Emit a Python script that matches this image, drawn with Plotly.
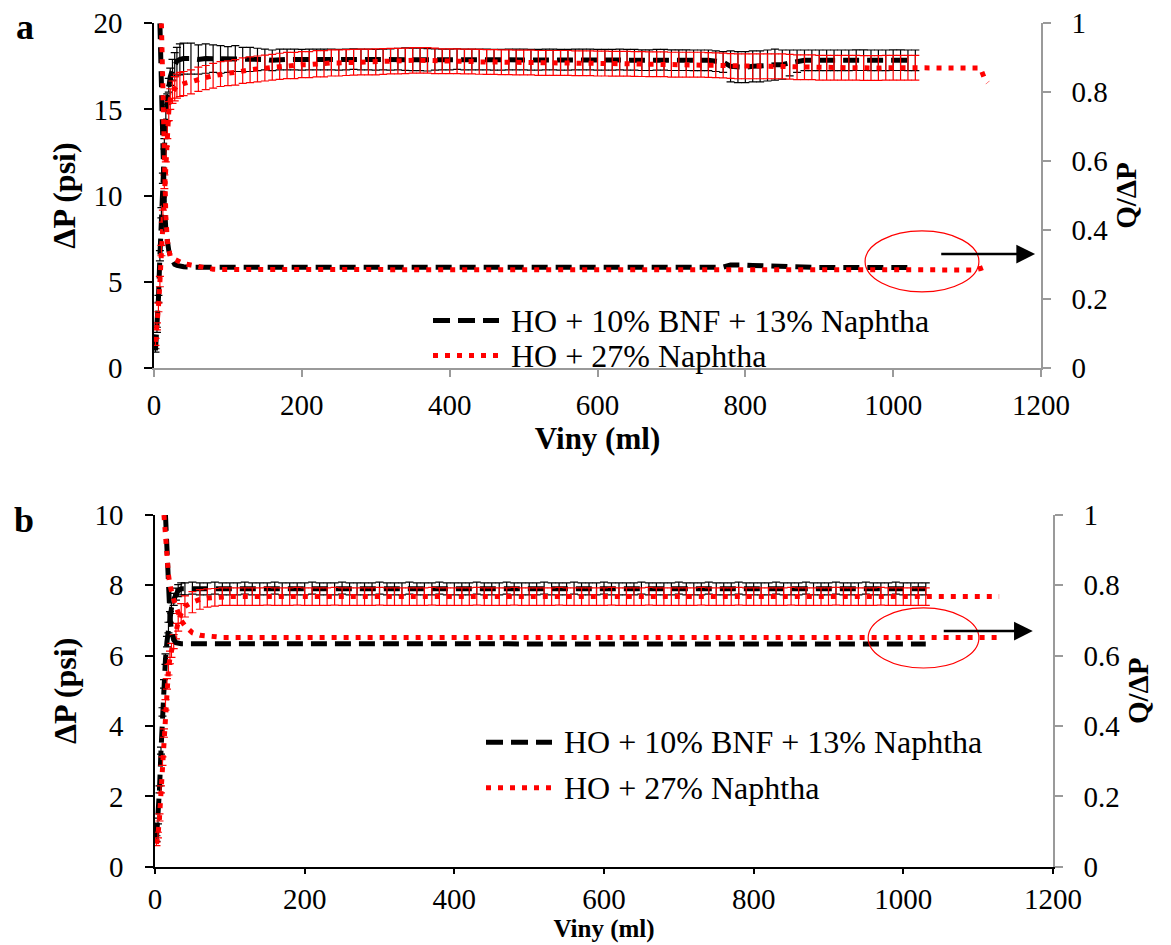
import plotly.graph_objects as go

# ---------------- data ----------------
# injected volume (ml)
vol = [2, 4, 6, 8, 10, 12, 14, 16, 18, 20, 22, 25, 28, 31, 35,
       40, 50, 60, 70, 80, 90, 100, 110, 120, 130,
       140, 150, 160, 170, 180, 190, 200, 210, 220, 230,
       240, 250, 260, 270, 280, 290, 300, 310, 320, 330,
       340, 350, 360, 370, 380, 390, 400, 410, 420, 430,
       440, 450, 460, 470, 480, 490, 500, 510, 520, 530,
       540, 550, 560, 570, 580, 590, 600, 610, 620, 630,
       640, 650, 660, 670, 680, 690, 700, 710, 720, 730,
       740, 750, 760, 770, 780, 790, 800, 810, 820, 830,
       840, 850, 860, 870, 880, 890, 900, 910, 920, 930,
       940, 950, 960, 970, 980, 990, 1000, 1010, 1020, 1030]
tail_a = [1040, 1050, 1060, 1070, 1080, 1090, 1100, 1110, 1118, 1124, 1128]
tail_b = [1040, 1050, 1060, 1070, 1080, 1090, 1100, 1110, 1120, 1128]

# ---- panel a ----
dp_bnf_a = [1.0, 2.2, 4.0, 6.5, 9.0, 11.0, 13.0, 14.6, 15.6, 16.4, 16.9, 17.3, 17.6, 17.8, 17.9,
            17.95, 17.95, 17.9, 17.95, 17.95, 17.9, 17.9, 17.95, 17.9, 17.9,
            17.9, 17.9, 17.85, 17.9, 17.9, 17.9, 17.88, 17.9, 17.9, 17.9,
            17.9, 17.88, 17.9, 17.92, 17.9, 17.9, 17.88, 17.9, 17.9, 17.92,
            17.92, 17.9, 17.9, 17.88, 17.9, 17.9, 17.9, 17.92, 17.9, 17.9,
            17.9, 17.9, 17.88, 17.88, 17.9, 17.9, 17.9, 17.88, 17.88, 17.9,
            17.9, 17.88, 17.88, 17.9, 17.9, 17.9, 17.88, 17.88, 17.88, 17.9,
            17.88, 17.88, 17.86, 17.86, 17.88, 17.88, 17.86, 17.86, 17.86, 17.85,
            17.85, 17.85, 17.8, 17.75, 17.5, 17.45, 17.45, 17.5, 17.5, 17.55,
            17.6, 17.6, 17.7, 17.8, 17.85, 17.85, 17.85, 17.85, 17.85, 17.85,
            17.85, 17.86, 17.86, 17.85, 17.85, 17.85, 17.86, 17.86, 17.85, 17.85]
err_bnf_a = [0.1, 0.15, 0.2, 0.3, 0.3, 0.3, 0.3, 0.3, 0.3, 0.4, 0.5, 0.6, 0.7, 0.8, 0.9,
             0.9, 0.9, 0.85, 0.85, 0.8, 0.8, 0.75, 0.75, 0.7, 0.7,
             0.65, 0.6, 0.6, 0.6, 0.6, 0.6, 0.6, 0.6, 0.6, 0.6,
             0.6, 0.6, 0.6, 0.6, 0.6, 0.6, 0.6, 0.6, 0.62, 0.62,
             0.65, 0.65, 0.65, 0.65, 0.62, 0.6, 0.6, 0.6, 0.6, 0.6,
             0.6, 0.6, 0.6, 0.6, 0.6, 0.6, 0.6, 0.6, 0.6, 0.6,
             0.6, 0.6, 0.6, 0.6, 0.6, 0.6, 0.6, 0.6, 0.6, 0.6,
             0.6, 0.6, 0.6, 0.6, 0.6, 0.6, 0.6, 0.6, 0.6, 0.6,
             0.6, 0.6, 0.6, 0.6, 0.9, 0.9, 0.9, 0.9, 0.9, 0.9,
             0.9, 0.85, 0.75, 0.65, 0.6, 0.6, 0.6, 0.6, 0.6, 0.6,
             0.6, 0.6, 0.6, 0.6, 0.6, 0.6, 0.6, 0.6, 0.6, 0.6]
q_bnf_a = [None, None, None, 1.0, 0.80, 0.62, 0.48, 0.40, 0.36, 0.34, 0.325, 0.31, 0.30, 0.297, 0.294,
           0.293, 0.292, 0.292, 0.291, 0.291, 0.291, 0.291, 0.291, 0.291, 0.291,
           0.291, 0.291, 0.290, 0.291, 0.291, 0.291, 0.291, 0.290, 0.291, 0.291,
           0.291, 0.291, 0.291, 0.290, 0.291, 0.291, 0.291, 0.291, 0.291, 0.290,
           0.291, 0.291, 0.291, 0.291, 0.291, 0.290, 0.291, 0.291, 0.291, 0.291,
           0.291, 0.290, 0.291, 0.291, 0.291, 0.291, 0.291, 0.290, 0.291, 0.291,
           0.291, 0.291, 0.291, 0.291, 0.290, 0.291, 0.291, 0.291, 0.291, 0.291,
           0.291, 0.291, 0.290, 0.291, 0.291, 0.291, 0.291, 0.291, 0.290, 0.291,
           0.291, 0.291, 0.291, 0.292, 0.298, 0.299, 0.298, 0.297, 0.296, 0.296,
           0.295, 0.295, 0.294, 0.292, 0.291, 0.291, 0.291, 0.291, 0.291, 0.291,
           0.291, 0.291, 0.290, 0.291, 0.291, 0.291, 0.291, 0.290, 0.291, 0.291]

dp_nap_a = [1.5, 2.4, 3.5, 5.0, 6.8, 8.8, 10.8, 12.4, 13.8, 14.9, 15.6, 16.0, 16.2, 16.35, 16.45,
            16.5, 16.6, 16.75, 16.85, 16.95, 17.05, 17.1, 17.15, 17.25, 17.3,
            17.35, 17.4, 17.45, 17.5, 17.55, 17.55, 17.6, 17.6, 17.65, 17.65,
            17.7, 17.7, 17.72, 17.74, 17.75, 17.75, 17.76, 17.78, 17.8, 17.8,
            17.82, 17.85, 17.85, 17.85, 17.82, 17.8, 17.8, 17.8, 17.78, 17.78,
            17.76, 17.75, 17.75, 17.74, 17.74, 17.72, 17.72, 17.72, 17.7, 17.7,
            17.7, 17.7, 17.7, 17.68, 17.68, 17.68, 17.66, 17.66, 17.65, 17.65,
            17.65, 17.64, 17.63, 17.62, 17.62, 17.62, 17.6, 17.6, 17.6, 17.6,
            17.6, 17.58, 17.56, 17.55, 17.52, 17.5, 17.5, 17.5, 17.5, 17.5,
            17.5, 17.5, 17.48, 17.45, 17.45, 17.45, 17.42, 17.42, 17.42, 17.42,
            17.42, 17.42, 17.4, 17.4, 17.4, 17.42, 17.42, 17.42, 17.42, 17.42,
            17.42, 17.42, 17.45, 17.45, 17.45, 17.45, 17.45, 17.42, 17.4, 16.75, 16.55]
err_nap_a = [0.2, 0.2, 0.25, 0.3, 0.3, 0.35, 0.4, 0.45, 0.5, 0.55, 0.6, 0.65, 0.7, 0.7, 0.7,
             0.7, 0.7, 0.7, 0.7, 0.72, 0.72, 0.72, 0.74, 0.74, 0.75,
             0.75, 0.75, 0.75, 0.76, 0.76, 0.76, 0.76, 0.76, 0.76, 0.76,
             0.76, 0.76, 0.75, 0.75, 0.75, 0.75, 0.75, 0.75, 0.74, 0.74,
             0.74, 0.74, 0.74, 0.74, 0.74, 0.72, 0.72, 0.72, 0.72, 0.72,
             0.72, 0.72, 0.72, 0.72, 0.72, 0.72, 0.72, 0.72, 0.72, 0.72,
             0.72, 0.72, 0.72, 0.72, 0.72, 0.72, 0.72, 0.72, 0.72, 0.72,
             0.72, 0.72, 0.72, 0.72, 0.72, 0.72, 0.72, 0.72, 0.72, 0.72,
             0.72, 0.72, 0.72, 0.72, 0.72, 0.72, 0.72, 0.72, 0.72, 0.72,
             0.72, 0.72, 0.72, 0.72, 0.72, 0.72, 0.72, 0.72, 0.72, 0.72,
             0.72, 0.72, 0.72, 0.72, 0.72, 0.72, 0.72, 0.72, 0.72, 0.72]
q_nap_a = [None, None, None, None, 1.0, 0.75, 0.56, 0.44, 0.37, 0.335, 0.322, 0.318, 0.314, 0.31, 0.305,
           0.302, 0.298, 0.293, 0.289, 0.286, 0.285, 0.285, 0.284, 0.284, 0.284,
           0.284, 0.285, 0.284, 0.284, 0.284, 0.285, 0.284, 0.284, 0.284, 0.284,
           0.285, 0.284, 0.284, 0.284, 0.284, 0.284, 0.285, 0.284, 0.284, 0.284,
           0.284, 0.284, 0.284, 0.285, 0.284, 0.284, 0.284, 0.284, 0.284, 0.285,
           0.284, 0.284, 0.284, 0.284, 0.285, 0.284, 0.284, 0.284, 0.284, 0.284,
           0.285, 0.284, 0.284, 0.284, 0.284, 0.284, 0.284, 0.285, 0.284, 0.284,
           0.284, 0.284, 0.285, 0.284, 0.284, 0.284, 0.284, 0.284, 0.284, 0.285,
           0.284, 0.284, 0.284, 0.284, 0.285, 0.285, 0.285, 0.285, 0.285, 0.285,
           0.285, 0.285, 0.284, 0.284, 0.284, 0.284, 0.284, 0.284, 0.284, 0.284,
           0.284, 0.284, 0.284, 0.284, 0.284, 0.284, 0.284, 0.284, 0.284, 0.284,
           0.284, 0.284, 0.284, 0.284, 0.284, 0.284, 0.284, 0.284, 0.288, 0.293, None]

# ---- panel b ----
dp_bnf_b = [0.8, 1.3, 2.2, 3.3, 4.4, 5.2, 5.9, 6.4, 6.8, 7.1, 7.35, 7.6, 7.75, 7.85, 7.9,
            7.9, 7.92, 7.9, 7.9, 7.92, 7.9, 7.9, 7.9, 7.92, 7.9,
            7.9, 7.9, 7.92, 7.9, 7.9, 7.9, 7.9, 7.92, 7.9, 7.9,
            7.9, 7.92, 7.9, 7.9, 7.9, 7.9, 7.92, 7.9, 7.9, 7.9,
            7.92, 7.9, 7.9, 7.9, 7.92, 7.9, 7.9, 7.9, 7.9, 7.92,
            7.9, 7.9, 7.9, 7.92, 7.9, 7.9, 7.9, 7.9, 7.92, 7.9,
            7.9, 7.9, 7.92, 7.9, 7.9, 7.9, 7.92, 7.9, 7.9, 7.9,
            7.9, 7.92, 7.9, 7.9, 7.9, 7.9, 7.92, 7.9, 7.9, 7.9,
            7.92, 7.9, 7.9, 7.9, 7.92, 7.9, 7.9, 7.9, 7.9, 7.92,
            7.9, 7.9, 7.9, 7.92, 7.9, 7.9, 7.9, 7.92, 7.9, 7.9,
            7.9, 7.92, 7.9, 7.9, 7.9, 7.92, 7.9, 7.9, 7.9, 7.9]
err_bnf_b = [0.08, 0.08, 0.1, 0.1, 0.12, 0.12, 0.15, 0.15, 0.15, 0.15, 0.15, 0.17, 0.17, 0.17, 0.17,
             0.17, 0.17, 0.17, 0.17, 0.17, 0.17, 0.17, 0.17, 0.17, 0.17,
             0.17, 0.17, 0.17, 0.17, 0.17, 0.17, 0.17, 0.17, 0.17, 0.17,
             0.17, 0.17, 0.17, 0.17, 0.17, 0.17, 0.17, 0.17, 0.17, 0.17,
             0.17, 0.17, 0.17, 0.17, 0.17, 0.17, 0.17, 0.17, 0.17, 0.17,
             0.17, 0.17, 0.17, 0.17, 0.17, 0.17, 0.17, 0.17, 0.17, 0.17,
             0.17, 0.17, 0.17, 0.17, 0.17, 0.17, 0.17, 0.17, 0.17, 0.17,
             0.17, 0.17, 0.17, 0.17, 0.17, 0.17, 0.17, 0.17, 0.17, 0.17,
             0.17, 0.17, 0.17, 0.17, 0.17, 0.17, 0.17, 0.17, 0.17, 0.17,
             0.17, 0.17, 0.17, 0.17, 0.17, 0.17, 0.17, 0.17, 0.17, 0.17,
             0.17, 0.17, 0.17, 0.17, 0.17, 0.17, 0.17, 0.17, 0.17, 0.17]
q_bnf_b = [None, None, None, None, None, None, 1.0, 0.88, 0.78, 0.71, 0.67, 0.645, 0.637, 0.635, 0.634,
           0.634, 0.634, 0.633, 0.634, 0.634, 0.634, 0.633, 0.634, 0.634, 0.634,
           0.634, 0.633, 0.634, 0.634, 0.634, 0.634, 0.633, 0.634, 0.634, 0.634,
           0.634, 0.634, 0.633, 0.634, 0.634, 0.634, 0.634, 0.633, 0.634, 0.634,
           0.634, 0.634, 0.634, 0.633, 0.634, 0.634, 0.634, 0.634, 0.633, 0.634,
           0.634, 0.634, 0.634, 0.634, 0.633, 0.634, 0.634, 0.634, 0.634, 0.633,
           0.634, 0.634, 0.634, 0.634, 0.634, 0.633, 0.634, 0.634, 0.634, 0.634,
           0.633, 0.634, 0.634, 0.634, 0.634, 0.634, 0.633, 0.634, 0.634, 0.634,
           0.634, 0.633, 0.634, 0.634, 0.634, 0.634, 0.634, 0.633, 0.634, 0.634,
           0.634, 0.634, 0.633, 0.634, 0.634, 0.634, 0.634, 0.634, 0.633, 0.634,
           0.634, 0.634, 0.634, 0.633, 0.634, 0.634, 0.634, 0.634, 0.634, 0.633]

dp_nap_b = [0.65, 0.9, 1.4, 2.2, 3.0, 3.8, 4.6, 5.2, 5.6, 5.95, 6.15, 6.4, 6.7, 6.95, 7.2,
            7.4, 7.52, 7.6, 7.64, 7.66, 7.68, 7.68, 7.68, 7.68, 7.68,
            7.68, 7.69, 7.68, 7.68, 7.68, 7.69, 7.68, 7.68, 7.68, 7.68,
            7.69, 7.68, 7.68, 7.68, 7.68, 7.68, 7.69, 7.68, 7.68, 7.68,
            7.68, 7.68, 7.68, 7.69, 7.68, 7.68, 7.68, 7.68, 7.68, 7.69,
            7.68, 7.68, 7.68, 7.68, 7.69, 7.68, 7.68, 7.68, 7.68, 7.68,
            7.69, 7.68, 7.68, 7.68, 7.68, 7.68, 7.68, 7.69, 7.68, 7.68,
            7.68, 7.68, 7.69, 7.68, 7.68, 7.68, 7.68, 7.68, 7.68, 7.69,
            7.68, 7.68, 7.68, 7.68, 7.69, 7.68, 7.68, 7.68, 7.68, 7.68,
            7.68, 7.69, 7.68, 7.68, 7.68, 7.68, 7.68, 7.69, 7.68, 7.68,
            7.68, 7.68, 7.68, 7.69, 7.68, 7.68, 7.68, 7.68, 7.68, 7.68,
            7.68, 7.68, 7.68, 7.68, 7.68, 7.68, 7.68, 7.68, 7.68, 7.68]
err_nap_b = [0.05, 0.08, 0.1, 0.1, 0.12, 0.12, 0.15, 0.15, 0.15, 0.18, 0.2, 0.2, 0.22, 0.25, 0.28,
             0.3, 0.3, 0.28, 0.26, 0.25, 0.25, 0.25, 0.25, 0.25, 0.25,
             0.25, 0.25, 0.25, 0.25, 0.25, 0.25, 0.25, 0.25, 0.25, 0.25,
             0.25, 0.25, 0.25, 0.25, 0.25, 0.25, 0.25, 0.25, 0.25, 0.25,
             0.25, 0.25, 0.25, 0.25, 0.25, 0.25, 0.25, 0.25, 0.25, 0.25,
             0.25, 0.25, 0.25, 0.25, 0.25, 0.25, 0.25, 0.25, 0.25, 0.25,
             0.25, 0.25, 0.25, 0.25, 0.25, 0.25, 0.25, 0.25, 0.25, 0.25,
             0.25, 0.25, 0.25, 0.25, 0.25, 0.25, 0.25, 0.25, 0.25, 0.25,
             0.25, 0.25, 0.25, 0.25, 0.25, 0.25, 0.25, 0.25, 0.25, 0.25,
             0.25, 0.25, 0.25, 0.25, 0.25, 0.25, 0.25, 0.25, 0.25, 0.25,
             0.25, 0.25, 0.25, 0.25, 0.25, 0.25, 0.25, 0.25, 0.25, 0.25]
q_nap_b = [None, None, None, None, None, 1.0, 0.93, 0.87, 0.83, 0.80, 0.78, 0.76, 0.74, 0.72, 0.70,
           0.685, 0.665, 0.658, 0.655, 0.653, 0.652, 0.652, 0.652, 0.652, 0.652,
           0.652, 0.652, 0.653, 0.652, 0.652, 0.652, 0.652, 0.652, 0.653, 0.652,
           0.652, 0.652, 0.652, 0.652, 0.653, 0.652, 0.652, 0.652, 0.652, 0.652,
           0.653, 0.652, 0.652, 0.652, 0.652, 0.652, 0.653, 0.652, 0.652, 0.652,
           0.652, 0.652, 0.653, 0.652, 0.652, 0.652, 0.652, 0.652, 0.653, 0.652,
           0.652, 0.652, 0.652, 0.652, 0.653, 0.652, 0.652, 0.652, 0.652, 0.652,
           0.653, 0.652, 0.652, 0.652, 0.652, 0.652, 0.653, 0.652, 0.652, 0.652,
           0.652, 0.652, 0.653, 0.652, 0.652, 0.652, 0.652, 0.652, 0.653, 0.652,
           0.652, 0.652, 0.652, 0.652, 0.653, 0.652, 0.652, 0.652, 0.652, 0.652,
           0.653, 0.652, 0.652, 0.652, 0.652, 0.652, 0.653, 0.652, 0.652, 0.652,
           0.652, 0.652, 0.652, 0.652, 0.652, 0.652, 0.652, 0.652, 0.652, 0.652]

x_ticks = [0, 200, 400, 600, 800, 1000, 1200]
name_bnf = "HO + 10% BNF + 13% Naphtha"
name_nap = "HO + 27% Naphtha"
x_title = "<b>Viny (ml)</b>"

# ---------------- styling ----------------
W, H = 1171, 945
FONT = "Liberation Serif"
GRAY = "#9a9a9a"
BLACK_LINE = dict(color="black", width=5, dash="16px,8px")
RED_LINE = dict(color="red", width=5, dash="5px,7px")


def fx(p):
    return p / W


def fy(p):
    return 1 - p / H


def err(arr, color):
    return dict(type="data", array=arr, color=color, thickness=1.2, width=4, visible=True)


fig = go.Figure()

# panel a
fig.add_trace(go.Scatter(x=vol, y=dp_bnf_a, mode="lines", line=BLACK_LINE,
                         error_y=err(err_bnf_a, "black"), xaxis="x", yaxis="y", name=name_bnf))
fig.add_trace(go.Scatter(x=vol + tail_a, y=dp_nap_a, mode="lines", line=RED_LINE,
                         error_y=err(err_nap_a, "red"), xaxis="x", yaxis="y", name=name_nap))
fig.add_trace(go.Scatter(x=vol, y=q_bnf_a, mode="lines", line=BLACK_LINE,
                         xaxis="x", yaxis="y2", name=name_bnf))
fig.add_trace(go.Scatter(x=vol + tail_a, y=q_nap_a, mode="lines", line=RED_LINE,
                         xaxis="x", yaxis="y2", name=name_nap))

# panel b
fig.add_trace(go.Scatter(x=vol, y=dp_bnf_b, mode="lines", line=BLACK_LINE,
                         error_y=err(err_bnf_b, "black"), xaxis="x2", yaxis="y3", name=name_bnf))
fig.add_trace(go.Scatter(x=vol + tail_b, y=dp_nap_b, mode="lines", line=RED_LINE,
                         error_y=err(err_nap_b, "red"), xaxis="x2", yaxis="y3", name=name_nap))
fig.add_trace(go.Scatter(x=vol, y=q_bnf_b, mode="lines", line=BLACK_LINE,
                         xaxis="x2", yaxis="y4", name=name_bnf))
fig.add_trace(go.Scatter(x=vol + tail_b, y=q_nap_b, mode="lines", line=RED_LINE,
                         xaxis="x2", yaxis="y4", name=name_nap))

tickfont = dict(family=FONT, size=29, color="black")


def x_axis(domain, anchor, color, ticklen, label_gap, title_size):
    return dict(domain=domain, anchor=anchor, range=[0, 1200], tickvals=x_ticks,
                ticks="outside", ticklen=ticklen, tickwidth=1.5, tickcolor=color,
                showline=True, linecolor=color, linewidth=1.5, automargin=False,
                showgrid=False, zeroline=False, tickfont=tickfont, ticklabelstandoff=label_gap,
                title=dict(text=x_title, standoff=0,
                           font=dict(family=FONT, size=title_size, color="black")))


def y_left(domain, anchor, rng, dtick):
    return dict(domain=domain, anchor=anchor, range=rng, dtick=dtick, tick0=0,
                ticks="outside", ticklen=8, tickwidth=1.5, tickcolor="black",
                showline=True, linecolor="black", linewidth=1.5, automargin=False,
                showgrid=False, zeroline=False, tickfont=tickfont, ticklabelstandoff=16,
                title=dict(text="<b>ΔP (psi)</b>", standoff=8,
                           font=dict(family=FONT, size=32, color="black")))


def y_right(overlay, anchor):
    return dict(overlaying=overlay, anchor=anchor, side="right", range=[0, 1], dtick=0.2, tick0=0,
                ticks="outside", ticklen=8, tickwidth=1.5, tickcolor=GRAY,
                showline=True, linecolor=GRAY, linewidth=1.5, automargin=False,
                showgrid=False, zeroline=False, tickfont=tickfont, ticklabelstandoff=15,
                title=dict(text="<b>Q/ΔP</b>", standoff=8,
                           font=dict(family=FONT, size=29, color="black")))


fig.update_layout(
    width=W, height=H, margin=dict(l=0, r=0, t=0, b=0, autoexpand=False),
    paper_bgcolor="white", plot_bgcolor="white", showlegend=False,
    font=dict(family=FONT, color="black"),
    xaxis=x_axis([fx(154), fx(1041)], "y", GRAY, 8, 3, 31),
    yaxis=y_left([fy(367.7), fy(23.3)], "x", [0, 20], 5),
    yaxis2=y_right("y", "x"),
    xaxis2=x_axis([fx(155), fx(1053)], "y3", "black", 6, 0, 25),
    yaxis3=y_left([fy(866.7), fy(515)], "x2", [0, 10], 2),
    yaxis4=y_right("y3", "x2"),
)

shapes = [
    # highlighted end region of the Q/ΔP curves
    dict(type="circle", xref="x", yref="y2", x0=962, x1=1116, y0=0.22, y1=0.397,
         line=dict(color="red", width=1.2)),
    dict(type="circle", xref="x2", yref="y4", x0=953, x1=1101, y0=0.565, y1=0.736,
         line=dict(color="red", width=1.2)),
    # legend keys
    dict(type="line", xref="paper", yref="paper", x0=fx(433), x1=fx(499), y0=fy(320.5), y1=fy(320.5),
         line=BLACK_LINE | dict(dash="17px,8px")),
    dict(type="line", xref="paper", yref="paper", x0=fx(433), x1=fx(499), y0=fy(355.5), y1=fy(355.5),
         line=RED_LINE),
    dict(type="line", xref="paper", yref="paper", x0=fx(486), x1=fx(552), y0=fy(742.3), y1=fy(742.3),
         line=BLACK_LINE | dict(dash="17px,8px")),
    dict(type="line", xref="paper", yref="paper", x0=fx(486), x1=fx(552), y0=fy(787.7), y1=fy(787.7),
         line=RED_LINE),
]

legend_font = dict(family=FONT, size=32, color="black")
panel_font = dict(family=FONT, size=36, color="black")

annotations = [
    dict(text="<b>a</b>", x=fx(25), y=fy(27), xref="paper", yref="paper", showarrow=False,
         xanchor="center", yanchor="middle", font=panel_font),
    dict(text="<b>b</b>", x=fx(24), y=fy(520), xref="paper", yref="paper", showarrow=False,
         xanchor="center", yanchor="middle", font=panel_font),
    dict(text=name_bnf, x=fx(509), y=fy(320.5), xref="paper", yref="paper", xanchor="left",
         yanchor="middle", showarrow=False, font=legend_font),
    dict(text=name_nap, x=fx(509), y=fy(355.5), xref="paper", yref="paper", xanchor="left",
         yanchor="middle", showarrow=False, font=legend_font),
    dict(text=name_bnf, x=fx(562), y=fy(742.3), xref="paper", yref="paper", xanchor="left",
         yanchor="middle", showarrow=False, font=legend_font),
    dict(text=name_nap, x=fx(562), y=fy(787.7), xref="paper", yref="paper", xanchor="left",
         yanchor="middle", showarrow=False, font=legend_font),
    # arrows pointing to the secondary axis
    dict(text="", x=1192, y=0.330, xref="x", yref="y2", ax=1063, ay=0.330, axref="x", ayref="y2",
         showarrow=True, arrowhead=2, arrowsize=1.5, arrowwidth=2.5, arrowcolor="black"),
    dict(text="", x=1173, y=0.670, xref="x2", yref="y4", ax=1052, ay=0.670, axref="x2", ayref="y4",
         showarrow=True, arrowhead=2, arrowsize=1.5, arrowwidth=2.5, arrowcolor="black"),
]

fig.update_layout(shapes=shapes, annotations=annotations)

fig.write_html("out.html")
